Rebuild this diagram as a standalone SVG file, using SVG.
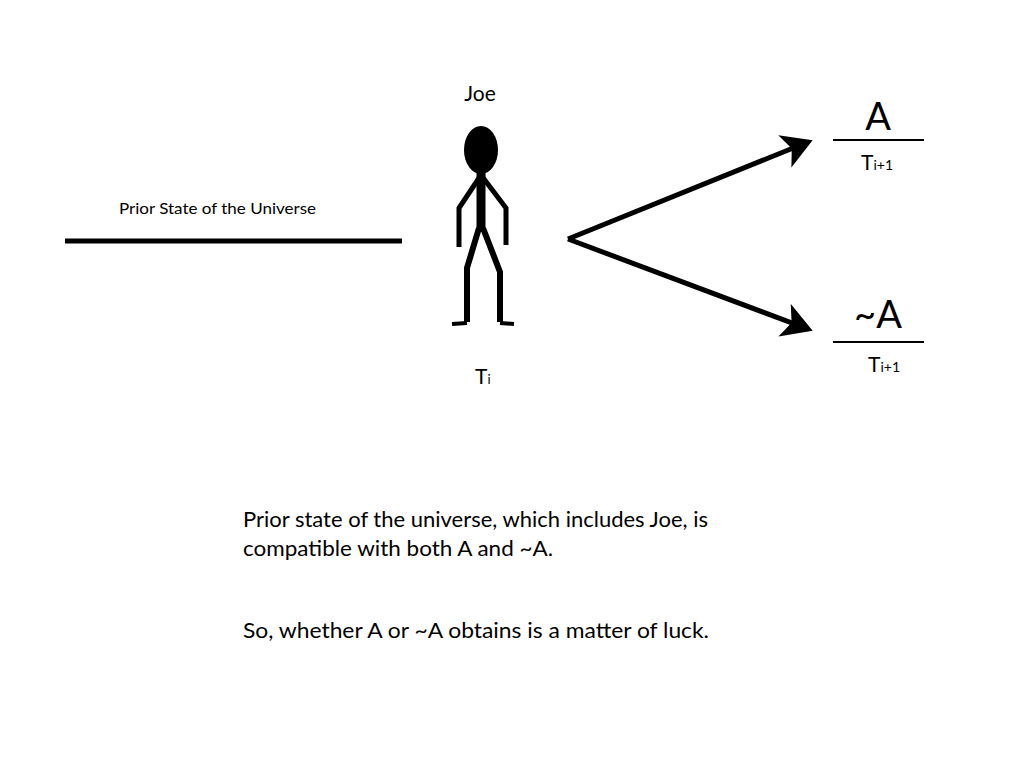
<svg xmlns="http://www.w3.org/2000/svg" width="1024" height="768" viewBox="0 0 1024 768">
<style>
text{font-family:"Lato","Liberation Sans",sans-serif;fill:#000}
.l{stroke:#000;fill:none}
</style>
<defs><marker id="ah" markerWidth="8" markerHeight="8" refX="5" refY="3.5" orient="auto" markerUnits="strokeWidth"><path d="M0,0 L6,3.5 L0,7 L1.5,3.5 Z" fill="#000"/></marker></defs>
<rect width="1024" height="768" fill="#fff"/>
<g id="prior">
<text x="119" y="214" font-size="15" textLength="197" lengthAdjust="spacingAndGlyphs">Prior State of the Universe</text>
<line class="l" x1="65" y1="241" x2="402" y2="241" stroke-width="5"/>
</g>
<g id="joe">
<text x="480" y="101" font-size="21" text-anchor="middle">Joe</text>
<ellipse cx="481" cy="150" rx="17" ry="24"/>
<path class="l" d="M481,170 V232" stroke-width="9"/>
<path class="l" d="M481,175 L459,208 V247 M481,175 L506,208 V245" stroke-width="5"/>
<path class="l" d="M479,228 L467,268 V322 M483,228 L500,272 V322" stroke-width="6"/>
<path class="l" d="M452,324 L467,323 M500,323 L514,324" stroke-width="4"/>
<text x="475" y="384" font-size="21">T<tspan font-size="13">i</tspan></text>
</g>
<g id="connectors">
<line class="l" x1="568" y1="239" x2="808" y2="142" stroke-width="5" marker-end="url(#ah)"/>
<line class="l" x1="568" y1="239" x2="808" y2="329" stroke-width="5" marker-end="url(#ah)"/>
</g>
<g id="A">
<text x="878" y="130" font-size="38" text-anchor="middle">A</text>
<line class="l" x1="833" y1="140" x2="924" y2="140" stroke-width="2"/>
<text x="861" y="170" font-size="21">T<tspan font-size="14">i+1</tspan></text>
</g>
<g id="notA">
<text x="878" y="328" font-size="38" text-anchor="middle">~A</text>
<line class="l" x1="833" y1="342" x2="924" y2="342" stroke-width="2"/>
<text x="868" y="372" font-size="21">T<tspan font-size="14">i+1</tspan></text>
</g>
<g id="caption" font-size="21">
<text x="243" y="527" textLength="465" lengthAdjust="spacingAndGlyphs">Prior state of the universe, which includes Joe, is</text>
<text x="243" y="556" textLength="310" lengthAdjust="spacingAndGlyphs">compatible with both A and ~A.</text>
<text x="243" y="638" textLength="466" lengthAdjust="spacingAndGlyphs">So, whether A or ~A obtains is a matter of luck.</text>
</g>
</svg>
